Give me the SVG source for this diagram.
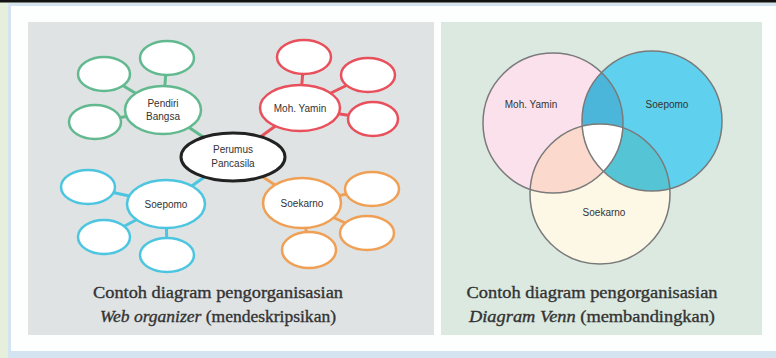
<svg xmlns="http://www.w3.org/2000/svg" width="776" height="358" viewBox="0 0 776 358">
<defs>
<style>
.lbl{font-family:"Liberation Sans",Arial,sans-serif;font-size:10px;fill:#333;text-anchor:middle}
.cap{font-family:"Liberation Serif","Times New Roman",serif;font-size:17px;fill:#333;stroke:#333;stroke-width:0.35;text-anchor:middle}
.g{stroke:#62b98f}
.r{stroke:#e8505b}
.c{stroke:#4cc6e0}
.o{stroke:#f0a055}
.node{fill:#fff;stroke-width:2.5}
.conn line{stroke-width:3}
.vc{fill:none;stroke:#7a7a7a;stroke-width:1.5}
</style>
<clipPath id="cpPink"><circle cx="553" cy="123" r="70"/></clipPath>
<clipPath id="cpBlue"><circle cx="652" cy="121" r="70"/></clipPath>
</defs>
<rect x="0" y="0" width="776" height="358" fill="#e6efdb"/>
<rect x="8" y="3" width="768" height="355" fill="#d4e3f0"/>
<rect x="11" y="6" width="765" height="345" fill="#fdfefe"/>
<rect x="0" y="0" width="776" height="2.5" fill="#111"/>
<rect x="28" y="22" width="406" height="313" fill="#dfe3e3"/>
<rect x="441" y="22" width="321" height="313" fill="#dbe9e1"/>

<g id="connectors" class="conn">
<line class="g" x1="163" y1="110" x2="233" y2="157"/>
<line class="g" x1="163" y1="110" x2="104" y2="74"/>
<line class="g" x1="163" y1="110" x2="167" y2="58"/>
<line class="g" x1="163" y1="110" x2="95" y2="122"/>
<line class="r" x1="300" y1="108" x2="233" y2="157"/>
<line class="r" x1="300" y1="108" x2="304" y2="57"/>
<line class="r" x1="300" y1="108" x2="368" y2="75"/>
<line class="r" x1="300" y1="108" x2="373" y2="119"/>
<line class="c" x1="166" y1="204" x2="233" y2="157"/>
<line class="c" x1="166" y1="204" x2="88" y2="187"/>
<line class="c" x1="166" y1="204" x2="104" y2="237"/>
<line class="c" x1="166" y1="204" x2="167" y2="255"/>
<line class="o" x1="302" y1="203" x2="233" y2="157"/>
<line class="o" x1="302" y1="203" x2="372" y2="189"/>
<line class="o" x1="302" y1="203" x2="367" y2="233"/>
<line class="o" x1="302" y1="203" x2="309" y2="250"/>
</g>

<g id="g-small"><ellipse class="node g" cx="104" cy="74" rx="26" ry="17"/><ellipse class="node g" cx="167" cy="58" rx="27" ry="17"/><ellipse class="node g" cx="95" cy="122" rx="26" ry="17"/></g>
<g id="pendiri"><ellipse class="node g" cx="163" cy="110" rx="38" ry="24"/><text class="lbl" x="163" y="107">Pendiri</text><text class="lbl" x="163" y="120">Bangsa</text></g>

<g id="r-small"><ellipse class="node r" cx="304" cy="57" rx="27" ry="17"/><ellipse class="node r" cx="368" cy="75" rx="27" ry="17"/><ellipse class="node r" cx="373" cy="119" rx="25" ry="17"/></g>
<g id="yamin"><ellipse class="node r" cx="300" cy="108" rx="40" ry="23"/><text class="lbl" x="300" y="112">Moh. Yamin</text></g>

<g id="c-small"><ellipse class="node c" cx="88" cy="187" rx="27" ry="17"/><ellipse class="node c" cx="104" cy="237" rx="26" ry="17"/><ellipse class="node c" cx="167" cy="255" rx="27" ry="17"/></g>
<g id="soepomo"><ellipse class="node c" cx="166" cy="204" rx="39" ry="24"/><text class="lbl" x="166" y="208">Soepomo</text></g>

<g id="o-small"><ellipse class="node o" cx="372" cy="189" rx="27" ry="17"/><ellipse class="node o" cx="367" cy="233" rx="27" ry="17"/><ellipse class="node o" cx="309" cy="250" rx="27" ry="18"/></g>
<g id="soekarno"><ellipse class="node o" cx="302" cy="203" rx="39" ry="25"/><text class="lbl" x="302" y="207">Soekarno</text></g>

<g id="perumus"><ellipse cx="233" cy="157" rx="52" ry="24" fill="#fff" stroke="#222" stroke-width="3"/><text class="lbl" x="233" y="153">Perumus</text><text class="lbl" x="233" y="167">Pancasila</text></g>

<text class="cap" x="218" y="298" textLength="250" lengthAdjust="spacingAndGlyphs">Contoh diagram pengorganisasian</text>
<text class="cap" x="218" y="322" textLength="236" lengthAdjust="spacingAndGlyphs"><tspan font-style="italic">Web organizer</tspan> (mendeskripsikan)</text>

<g id="venn">
<circle cx="553" cy="123" r="70" fill="#fbe1ec"/>
<circle cx="652" cy="121" r="70" fill="#5fd0ee"/>
<circle cx="600" cy="194" r="70" fill="#fdf8e6"/>
<circle cx="652" cy="121" r="70" fill="#4bb6da" clip-path="url(#cpPink)"/>
<circle cx="600" cy="194" r="70" fill="#fbdacd" clip-path="url(#cpPink)"/>
<circle cx="600" cy="194" r="70" fill="#55c4d5" clip-path="url(#cpBlue)"/>
<g clip-path="url(#cpBlue)"><circle cx="600" cy="194" r="70" fill="#ffffff" clip-path="url(#cpPink)"/></g>
<circle class="vc" cx="553" cy="123" r="70"/>
<circle class="vc" cx="652" cy="121" r="70"/>
<circle class="vc" cx="600" cy="194" r="70"/>
<text class="lbl" x="531" y="108">Moh. Yamin</text>
<text class="lbl" x="667" y="108">Soepomo</text>
<text class="lbl" x="604" y="216">Soekarno</text>
</g>

<text class="cap" x="592" y="298" textLength="251" lengthAdjust="spacingAndGlyphs">Contoh diagram pengorganisasian</text>
<text class="cap" x="592" y="322" textLength="246" lengthAdjust="spacingAndGlyphs"><tspan font-style="italic">Diagram Venn</tspan> (membandingkan)</text>
</svg>
